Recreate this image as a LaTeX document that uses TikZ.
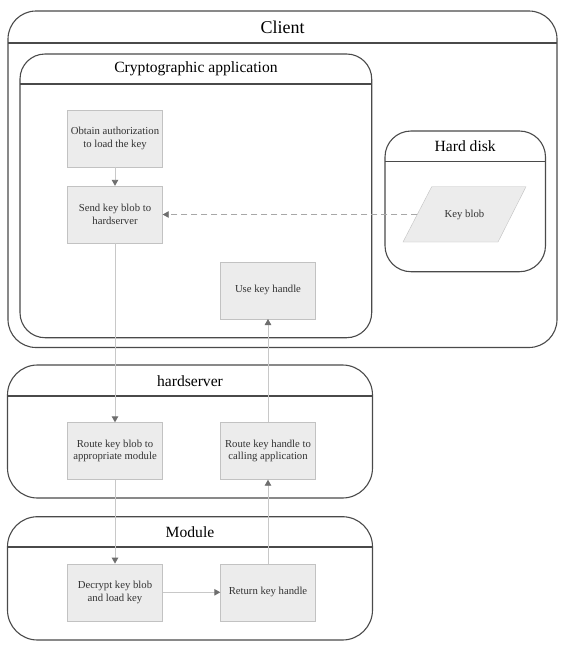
\documentclass[tikz,border=0pt]{standalone}
\usepackage{fontspec}
\setmainfont{Liberation Serif}
\usetikzlibrary{arrows.meta}
\definecolor{boxfill}{HTML}{ECECEC}
\definecolor{boxline}{HTML}{C2C2C2}
\definecolor{contline}{HTML}{4A4A4A}
\definecolor{connline}{HTML}{C8C8C8}
\definecolor{tipgray}{HTML}{6E6E6E}
\definecolor{dashgray}{HTML}{A8A8A8}
\definecolor{txtgray}{HTML}{333333}
\begin{document}
\begin{tikzpicture}[x=1pt,y=-1pt,
  cont/.style={draw=contline,line width=1.1pt,rounded corners=28pt},
  hdr/.style={draw=contline,line width=1.1pt},
  ctitle/.style={text=black,font=\fontsize{15.6}{18}\selectfont,inner sep=0pt},
  stepbox/.style={draw=boxline,fill=boxfill,minimum width=95pt,minimum height=57pt,
    inner sep=1pt,align=center,text=txtgray,font=\fontsize{10.7}{12.5}\selectfont},
  conn/.style={draw=connline,line width=0.9pt,-{Triangle[width=6.5pt,length=6pt,color=tipgray]}},
  dconn/.style={draw=dashgray,line width=0.9pt,dash pattern=on 6pt off 4pt,-{Triangle[width=6.5pt,length=6pt,color=tipgray]}}]
\useasboundingbox[fill=white] (0,0) rectangle (567,649);
% containers
\draw[cont] (8,11) rectangle (557,347.5);
\draw[hdr] (8,43) -- (557,43);
\node[ctitle,font=\fontsize{18}{20}\selectfont] (tclient) at (282.5,27) {Client};
\draw[cont,rounded corners=25pt] (20,54) rectangle (371.7,337.7);
\draw[hdr] (20,84) -- (371.7,84);
\node[ctitle] (tcrypto) at (196,69) {Cryptographic application};
\draw[cont,rounded corners=26pt] (385,131) rectangle (545.5,271.7);
\draw[hdr] (385,161.5) -- (545.5,161.5);
\node[ctitle] (tdisk) at (465.2,146) {Hard disk};
\draw[cont,rounded corners=30pt] (7.5,365) rectangle (372.5,498);
\draw[hdr] (7.5,396) -- (372.5,396);
\node[ctitle] (tserver) at (190,381) {hardserver};
\draw[cont,rounded corners=30pt] (7.5,516.7) rectangle (372.5,640);
\draw[hdr] (7.5,547) -- (372.5,547);
\node[ctitle] (tmodule) at (190,532) {Module};
% key blob parallelogram
\coordinate (p1) at (431.7,186.7);
\coordinate (p2) at (526,186.7);
\coordinate (p3) at (498,242);
\coordinate (p4) at (403,242);
\draw[draw=boxline,fill=boxfill] (p1) -- (p2) -- (p3) -- (p4) -- cycle;
\node[text=txtgray,font=\fontsize{10.7}{12.5}\selectfont] (keyblob) at (464.5,214.5) {Key blob};
\coordinate (kbleft) at (417.4,214.5);
% steps
\node[stepbox] (obtain) at (115,138.3) {Obtain authorization\\to load the key};
\node[stepbox] (send) at (115,214.5) {Send key blob to\\hardserver};
\node[stepbox] (use) at (268,290.3) {Use key handle};
\node[stepbox] (routeblob) at (115,451) {Route key blob to\\appropriate module};
\node[stepbox] (routehandle) at (268,451) {Route key handle to\\calling application};
\node[stepbox] (decrypt) at (115,592.3) {Decrypt key blob\\and load key};
\node[stepbox] (ret) at (268,592.3) {Return key handle};
% connectors
\draw[conn] (obtain) -- (send);
\draw[conn] (send) -- (routeblob);
\draw[conn] (routeblob) -- (decrypt);
\draw[conn] (decrypt) -- (ret);
\draw[conn] (ret) -- (routehandle);
\draw[conn] (routehandle) -- (use);
\draw[dconn] (kbleft) -- (send.east);
\end{tikzpicture}
\end{document}
